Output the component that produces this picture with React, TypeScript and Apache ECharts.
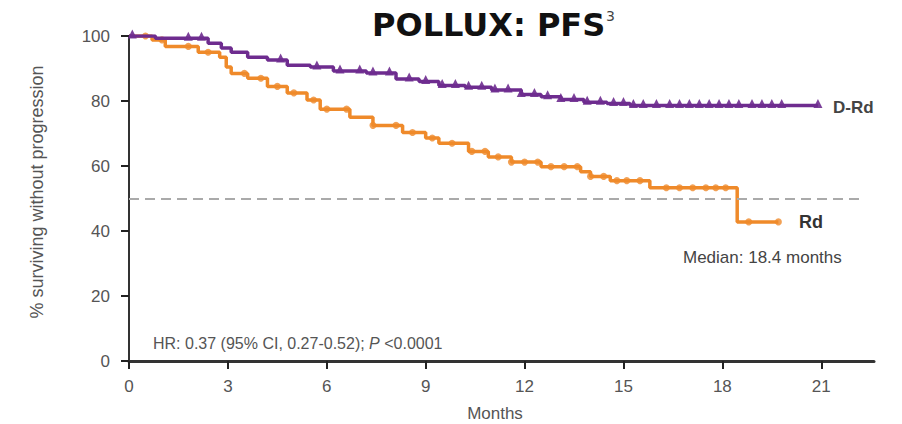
import React, { useEffect, useRef } from "react";
import * as echarts from "echarts";

// Kaplan–Meier step points [month, % surviving without progression]
const dRdCurve: [number, number][] = [
  [0, 100], [0.8, 99.3], [2.4, 97.8], [2.8, 96.3], [3.1, 95], [3.6, 93.5],
  [4.2, 92.6], [4.8, 91], [5.5, 90.5], [6.2, 89.2], [7.2, 88.6], [8.1, 86.8],
  [8.8, 86], [9.4, 84.8], [10.2, 84.2], [11.0, 83.4], [11.9, 82], [12.5, 81.3],
  [13.1, 80.5], [13.8, 79.6], [14.5, 79.2], [15.2, 78.6], [20.9, 78.6],
];
const rdCurve: [number, number][] = [
  [0, 100], [0.7, 98.8], [1.1, 96.8], [2.1, 95], [2.75, 93.5], [2.95, 90.5],
  [3.1, 88.5], [3.6, 87], [4.2, 84.5], [4.8, 82.5], [5.4, 80.3], [5.8, 77.5],
  [6.7, 75], [7.4, 72.5], [8.3, 70.3], [9.0, 68.6], [9.4, 67], [10.3, 64.5],
  [10.9, 62.8], [11.6, 61.2], [12.5, 59.8], [13.7, 58.2], [14.0, 56.8],
  [14.6, 55.5], [15.8, 53.3], [18.45, 42.8], [19.7, 42.8],
];
// censoring times (months)
const dRdCensor: number[] = [
  0.1, 1.8, 2.2, 4.6, 5.7, 6.4, 7.0, 7.4, 7.9, 8.5, 9.0, 9.5, 9.9, 10.3, 10.7,
  11.1, 11.5, 11.9, 12.3, 12.7, 13.1, 13.5, 13.9, 14.3, 14.7, 15.0, 15.3, 15.6,
  16.0, 16.4, 16.7, 17.0, 17.3, 17.6, 17.9, 18.2, 18.5, 18.9, 19.2, 19.5, 19.8, 20.9,
];
const rdCensor: number[] = [
  0.5, 1.0, 1.8, 2.4, 3.5, 4.0, 4.5, 5.0, 5.6, 6.0, 6.6, 7.4, 8.1, 8.6, 9.2,
  9.8, 10.4, 10.8, 11.2, 11.6, 12.0, 12.4, 12.8, 13.2, 13.6, 14.0, 14.4, 14.8,
  15.1, 15.5, 16.3, 16.7, 17.1, 17.5, 17.8, 18.1, 18.8, 19.7,
];
const xTicks: number[] = [0, 3, 6, 9, 12, 15, 18, 21];
const medianLevel = 50;

const PURPLE = "#6E2C8F";
const ORANGE = "#EF8A2A";
const FONT = "'Liberation Sans', Arial, sans-serif";

function stepValue(curve: [number, number][], t: number): number {
  let v = curve[0][1];
  for (const [x, y] of curve) {
    if (x <= t) v = y;
    else break;
  }
  return v;
}

export default function App() {
  const ref = useRef<HTMLDivElement>(null);
  useEffect(() => {
    if (!ref.current) return;
    const chart = echarts.init(ref.current, null, { renderer: "svg" });
    chart.setOption({
      animation: false,
      backgroundColor: "#fff",
      grid: { left: 129, top: 36, right: 28, bottom: 63, containLabel: false },
      xAxis: {
        type: "value",
        min: 0,
        max: 22.6,
        interval: 3,
        axisLine: { show: true, lineStyle: { color: "#333", width: 3 } },
        axisTick: {
          show: true,
          customValues: xTicks,
          length: 8,
          lineStyle: { color: "#222", width: 2 },
        },
        axisLabel: {
          customValues: xTicks,
          formatter: (v: number) => (v % 3 === 0 ? String(v) : ""),
          color: "#555",
          fontSize: 17,
          fontFamily: FONT,
          margin: 17,
        },
        splitLine: { show: false },
      },
      yAxis: {
        type: "value",
        min: 0,
        max: 100,
        interval: 20,
        axisLine: { show: true, lineStyle: { color: "#333", width: 2 } },
        axisTick: { show: true, length: 8, lineStyle: { color: "#222", width: 2 } },
        axisLabel: { color: "#555", fontSize: 17, fontFamily: FONT, margin: 19 },
        splitLine: { show: false },
      },
      series: [
        {
          type: "line",
          name: "Rd",
          step: "end",
          data: rdCurve,
          showSymbol: false,
          lineStyle: { color: ORANGE, width: 3.5 },
          z: 3,
          markLine: {
            silent: true,
            symbol: "none",
            label: { show: false },
            lineStyle: { color: "#aaa", type: [10, 6], width: 2 },
            data: [[{ coord: [0, medianLevel] }, { coord: [22.25, medianLevel] }]],
          },
        },
        {
          type: "line",
          name: "D-Rd",
          step: "end",
          data: dRdCurve,
          showSymbol: false,
          lineStyle: { color: PURPLE, width: 3.5 },
          z: 4,
        },
        {
          type: "scatter",
          data: rdCensor.map((t) => [t, stepValue(rdCurve, t)]),
          symbol: "circle",
          symbolSize: 7,
          itemStyle: { color: ORANGE },
          z: 3,
        },
        {
          type: "scatter",
          data: dRdCensor.map((t) => [t, stepValue(dRdCurve, t)]),
          symbol: "triangle",
          symbolSize: 9,
          symbolOffset: [0, -2],
          itemStyle: { color: PURPLE, opacity: 0.9 },
          z: 4,
        },
      ],
      graphic: [
        {
          type: "text",
          x: 372,
          y: 25,
          style: {
            text: "POLLUX: PFS",
            font: "bold 32px 'DejaVu Sans', sans-serif",
            fill: "#111",
            verticalAlign: "middle",
            align: "left",
          },
        },
        {
          type: "text",
          x: 606,
          y: 16,
          style: {
            text: "3",
            font: "14px 'DejaVu Sans', sans-serif",
            fill: "#444",
            verticalAlign: "middle",
            align: "left",
          },
        },
        {
          type: "text",
          x: 833,
          y: 107,
          style: {
            text: "D-Rd",
            font: "bold 17px " + FONT,
            fill: "#444",
            verticalAlign: "middle",
            align: "left",
          },
        },
        {
          type: "text",
          x: 799,
          y: 222,
          style: {
            text: "Rd",
            font: "bold 18px " + FONT,
            fill: "#333",
            verticalAlign: "middle",
            align: "left",
          },
        },
        {
          type: "text",
          x: 683,
          y: 257,
          style: {
            text: "Median: 18.4 months",
            font: "17px " + FONT,
            fill: "#444",
            verticalAlign: "middle",
            align: "left",
          },
        },
        {
          type: "text",
          x: 153,
          y: 343,
          style: {
            text: "{n|HR: 0.37 (95% CI, 0.27-0.52); }{i|P}{n| <0.0001}",
            verticalAlign: "middle",
            align: "left",
            rich: {
              n: { fontSize: 16, fontFamily: FONT, fill: "#555", color: "#555" },
              i: { fontSize: 16, fontFamily: FONT, fontStyle: "italic", fill: "#555", color: "#555" },
            },
          },
        },
        {
          type: "text",
          x: 37,
          y: 192,
          rotation: Math.PI / 2,
          style: {
            text: "% surviving without progression",
            font: "18px " + FONT,
            fill: "#555",
            verticalAlign: "middle",
            align: "center",
          },
        },
        {
          type: "text",
          x: 495,
          y: 413,
          style: {
            text: "Months",
            font: "17px " + FONT,
            fill: "#555",
            verticalAlign: "middle",
            align: "center",
          },
        },
      ],
    });
    return () => chart.dispose();
  }, []);
  return (
    <div
      ref={ref}
      style={{ position: "fixed", left: 0, top: 0, width: 902, height: 424 }}
    />
  );
}
